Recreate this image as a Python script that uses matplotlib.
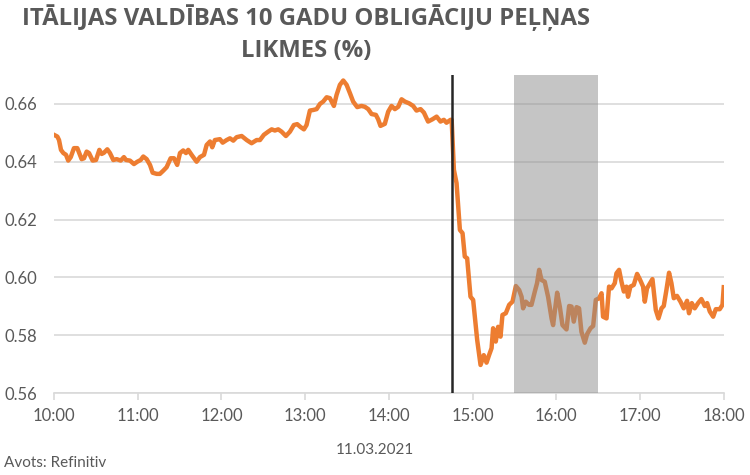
import numpy as np
import matplotlib.pyplot as plt

# minūtes kopš 10:00 un ienesīgums (%)
minutes = [0, 2.4, 3.6, 5.0, 6.7, 8.6, 10.2, 12.0, 14.3, 16.7, 19.8, 21.5, 23.4, 25.1,
           27.7, 30.1, 32.5, 34.2, 35.8, 38.2, 40.1, 42.5, 44.9, 47.8, 50.1, 51.6, 54.4,
           57.3, 59.7, 62.1, 64.0, 66.4, 68.8, 70.7, 73.6, 75.9, 78.3, 80.7, 83.6, 86.0,
           88.3, 90.3, 92.6, 94.6, 96.2, 98.6, 102.2, 104.6, 107.5, 109.4, 111.8, 113.4,
           115.3, 118.9, 120.9, 123.7, 126.1, 128.5, 130.9, 134.5, 138.1, 141.6, 145.2,
           147.6, 150.4, 153.5, 156.0, 158.3, 160.7, 163.1, 166.2, 169.1, 171.9, 174.3,
           176.7, 179.1, 181.0, 183.4, 185.8, 188.2, 190.6, 192.9, 195.4, 197.7, 200.6,
           202.5, 204.9, 207.3, 209.7, 212.1, 214.4, 217.3, 220.4, 222.8, 225.2, 227.6,
           230.7, 232.3, 234.0, 237.1, 239.5, 241.9, 244.3, 246.7, 249.1, 251.5, 254.5,
           257.4, 259.8, 262.7, 265.1, 268.1, 271.3, 274.2, 277.0, 279.4, 281.3, 284.2,
           285.0, 286.6, 288.5, 290.9, 292.8, 294.4, 296.1, 298.5, 300.4, 303.3, 305.7,
           308.0, 310.0, 311.8, 313.6, 314.7, 316.6, 318.3, 320.0, 321.4, 323.8, 326.2,
           328.6, 331.0, 333.4, 335.1, 336.2, 338.1, 340.5, 342.2, 344.6, 346.2, 347.7,
           349.4, 351.7, 354.1, 356.6, 357.7, 360.6, 362.5, 364.4, 367.3, 369.2, 370.9,
           372.5, 374.5, 376.3, 378.0, 380.4, 382.1, 384.5, 386.4, 388.3, 390.7, 392.4,
           393.5, 396.0, 397.8, 399.6, 401.9, 403.1, 405.0, 406.7, 408.4, 410.3, 411.4,
           413.1, 415.5, 417.9, 419.8, 422.2, 423.4, 425.0, 428.9, 431.3, 433.2, 435.4,
           437.0, 438.9, 440.8, 442.5, 444.2, 446.5, 449.0, 451.3, 453.7, 455.1, 457.1,
           459.2, 461.6, 464.0, 466.4, 468.1, 470.0, 472.4, 474.3, 477.1, 479.1, 480.0]
yields = [0.6493, 0.6487, 0.6475, 0.6441, 0.6430, 0.6424, 0.6404, 0.6416, 0.6447, 0.6447,
          0.6409, 0.6412, 0.6435, 0.6430, 0.6404, 0.6406, 0.6441, 0.6427, 0.6431, 0.6443,
          0.6430, 0.6406, 0.6409, 0.6404, 0.6416, 0.6406, 0.6404, 0.6392, 0.6400, 0.6406,
          0.6418, 0.6409, 0.6389, 0.6362, 0.6358, 0.6358, 0.6369, 0.6381, 0.6412, 0.6412,
          0.6389, 0.6430, 0.6439, 0.6430, 0.6441, 0.6424, 0.6400, 0.6416, 0.6424, 0.6458,
          0.6470, 0.6450, 0.6475, 0.6478, 0.6466, 0.6475, 0.6481, 0.6473, 0.6485, 0.6489,
          0.6475, 0.6464, 0.6475, 0.6475, 0.6493, 0.6504, 0.6512, 0.6508, 0.6512, 0.6504,
          0.6489, 0.6504, 0.6527, 0.6530, 0.6520, 0.6512, 0.6527, 0.6577, 0.6579, 0.6582,
          0.6600, 0.6608, 0.6623, 0.6620, 0.6593, 0.6631, 0.6666, 0.6681, 0.6666, 0.6637,
          0.6608, 0.6589, 0.6593, 0.6590, 0.6582, 0.6565, 0.6562, 0.6547, 0.6524, 0.6531,
          0.6573, 0.6593, 0.6582, 0.6590, 0.6616, 0.6608, 0.6602, 0.6593, 0.6577, 0.6582,
          0.6570, 0.6539, 0.6547, 0.6556, 0.6539, 0.6545, 0.6535, 0.6545,
          0.6545, 0.6372, 0.6326, 0.6164, 0.6153, 0.6072, 0.6066, 0.5933, 0.5922, 0.5783,
          0.5697, 0.5731, 0.5705, 0.5731, 0.5755, 0.5824, 0.5778, 0.5829, 0.5795, 0.5870,
          0.5876, 0.5905, 0.5916, 0.5970, 0.5956, 0.5933, 0.5893, 0.5916, 0.5905, 0.5905,
          0.5951, 0.5980, 0.6026, 0.5991, 0.5985, 0.5933, 0.5858, 0.5835, 0.5947, 0.5899,
          0.5835, 0.5820, 0.5901, 0.5899, 0.5847, 0.5897, 0.5893, 0.5812, 0.5774, 0.5804,
          0.5824, 0.5832, 0.5922, 0.5928, 0.5945, 0.5864, 0.5858, 0.5968, 0.5962, 0.5980,
          0.6014, 0.6026, 0.5985, 0.5951, 0.5968, 0.5933, 0.5968, 0.5974, 0.6012, 0.5994,
          0.5968, 0.5916, 0.5962, 0.5994, 0.5887, 0.5858, 0.5893, 0.5901, 0.5956, 0.6016,
          0.5980, 0.5928, 0.5936, 0.5916, 0.5893, 0.5919, 0.5876, 0.5911, 0.5893, 0.5911,
          0.5925, 0.5901, 0.5911, 0.5882, 0.5864, 0.5890, 0.5890, 0.5905, 0.5966]

hour_labels = ["10:00", "11:00", "12:00", "13:00", "14:00", "15:00", "16:00", "17:00", "18:00"]
y_ticks = [0.56, 0.58, 0.60, 0.62, 0.64, 0.66]
event_time = 14.75          # 14:45
band = (15.5, 16.5)         # 15:30 - 16:30

TXT = '#595959'
plt.rcParams['font.family'] = ['Lato', 'DejaVu Sans']

x = 10 + np.array(minutes) / 60.0

fig = plt.figure(figsize=(7.5, 4.75), dpi=100)
ax = fig.add_axes([0.072, 0.1726, 0.893, 0.6695])

ax.plot(x, yields, color='#ED7D31', lw=3.2, zorder=3, solid_joinstyle='round')
ax.axvline(event_time, color='#262626', lw=1.8, zorder=4)
ax.axvspan(band[0], band[1], color='#8c8c8c', alpha=0.5, lw=0, zorder=5)

ax.set_xlim(10, 18)
ax.set_ylim(0.56, 0.67)
ax.set_yticks(y_ticks)
ax.set_yticklabels([f"{v:.2f}" for v in y_ticks])
ax.set_xticks(np.arange(10, 19))
ax.set_xticklabels(hour_labels)
ax.grid(axis='y', color='#d9d9d9', lw=1.2, zorder=1)
ax.set_axisbelow(True)

for s in ['top', 'right', 'left']:
    ax.spines[s].set_visible(False)
ax.spines['bottom'].set_color('#d9d9d9')
ax.spines['bottom'].set_linewidth(1.2)
ax.tick_params(axis='y', length=0, pad=12, labelsize=12, labelcolor=TXT)
ax.tick_params(axis='x', direction='out', length=5, width=1.2, color='#d9d9d9',
               pad=6, labelsize=12, labelcolor=TXT)

title_font = dict(ha='center', va='center', fontsize=17.2, fontweight='bold', color=TXT,
                  family=['Open Sans', 'DejaVu Sans'])
fig.text(0.408, 0.962, "ITĀLIJAS VALDĪBAS 10 GADU OBLIGĀCIJU PEĻŅAS", **title_font)
fig.text(0.408, 0.892, "LIKMES (%)", **title_font)
fig.text(0.5, 0.052, "11.03.2021", ha='center', va='center', fontsize=11, color=TXT)
fig.text(0.005, 0.025, "Avots: Refinitiv", ha='left', va='center', fontsize=11, color=TXT)

plt.savefig('out.png', dpi=100)
